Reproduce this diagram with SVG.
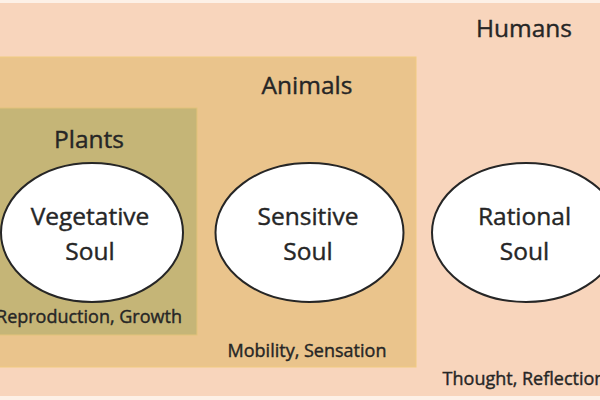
<svg xmlns="http://www.w3.org/2000/svg" width="600" height="400" viewBox="0 0 600 400">
<style>
.lbl{font-family:"Open Sans","Liberation Sans",sans-serif;fill:#262626;stroke:#262626;stroke-width:0.4;text-anchor:middle}
.big{font-size:24.5px}
.small{font-size:18px}
.soul{fill:#ffffff;stroke:#262626;stroke-width:2}
</style>
<rect x="0" y="0" width="600" height="400" fill="#fdf1e7"/>
<g id="humans">
<rect x="0" y="3" width="600" height="393" fill="#f8d5bc"/>
<text class="lbl big" x="524" y="37">Humans</text>
<text class="lbl small" x="524" y="385">Thought, Reflection</text>
</g>
<g id="animals">
<rect x="-2" y="57" width="418" height="310" fill="#eac48c" stroke="#f0cb80" stroke-width="1"/>
<text class="lbl big" x="307" y="94">Animals</text>
<text class="lbl small" x="307" y="357">Mobility, Sensation</text>
</g>
<g id="plants">
<rect x="-2" y="108" width="199" height="227" fill="#c5b577" stroke="#e2c27a" stroke-width="1"/>
<text class="lbl big" x="89" y="148">Plants</text>
<text class="lbl small" x="89" y="323">Reproduction, Growth</text>
</g>
<g id="vegetative-soul">
<ellipse class="soul" cx="92" cy="232.5" rx="91" ry="69.5"/>
<text class="lbl big" x="90" y="225">Vegetative</text>
<text class="lbl big" x="90" y="260">Soul</text>
</g>
<g id="sensitive-soul">
<ellipse class="soul" cx="309.5" cy="232.5" rx="94" ry="69.5"/>
<text class="lbl big" x="308" y="225">Sensitive</text>
<text class="lbl big" x="308" y="260">Soul</text>
</g>
<g id="rational-soul">
<ellipse class="soul" cx="526" cy="232.5" rx="94" ry="69.5"/>
<text class="lbl big" x="524.5" y="225">Rational</text>
<text class="lbl big" x="524.5" y="260">Soul</text>
</g>
<g id="connectors"/>
</svg>
